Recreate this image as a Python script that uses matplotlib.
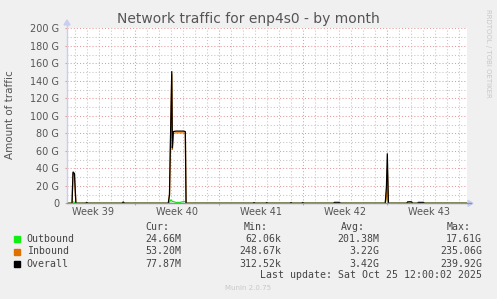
import matplotlib
matplotlib.use("Agg")
import matplotlib.pyplot as plt
import numpy as np

# ---- data (x in days from left edge of window, values in G) ----
t_days = [0.00, 0.42, 0.50, 0.62, 0.74,
          1.54, 1.64, 1.75,
          4.58, 4.69, 4.79,
          8.44, 8.54, 8.65, 8.73, 8.78, 8.86, 9.08, 9.42, 9.70, 9.86, 9.92,
          15.50, 15.58, 15.66,
          16.56, 16.64, 16.72,
          18.59, 18.67, 18.75,
          19.56, 19.64, 19.72,
          22.20, 22.28, 22.70, 22.78,
          26.52, 26.62, 26.69, 26.78,
          28.30, 28.38, 28.58, 28.72, 28.80,
          29.20, 29.28, 29.70, 29.78,
          33.33]
outbound = [0, 0, 1.5, 1.2, 0,
            0, 0.5, 0,
            0, 0.1, 0,
            0, 1.0, 4.0, 3.0, 2.0, 2.0, 1.0, 1.0, 2.0, 2.0, 0,
            0, 0.7, 0,
            0, 0.2, 0,
            0, 0.8, 0,
            0, 0.2, 0,
            0, 0.1, 0.1, 0,
            0, 12.0, 17.6, 0,
            0, 1.4, 1.6, 1.4, 0,
            0, 0.1, 0.1, 0,
            0]
inbound = [0, 0, 34.5, 32.5, 0,
           0, 0.5, 0,
           0, 1.4, 0,
           0, 9.0, 90.0, 148.0, 61.0, 80.0, 80.5, 80.5, 80.5, 80.0, 0,
           0, 0.2, 0,
           0, 0.6, 0,
           0, 0.1, 0,
           0, 0.8, 0,
           0, 0.9, 0.9, 0,
           0, 8.0, 39.5, 0,
           0, 0.1, 0.1, 0.1, 0,
           0, 0.9, 0.9, 0,
           0]
overall = [0, 0, 36.0, 34.0, 0,
           0, 1.0, 0,
           0, 1.5, 0,
           0, 10.0, 94.0, 151.0, 63.0, 82.0, 82.5, 82.5, 82.5, 82.0, 0,
           0, 0.9, 0,
           0, 0.8, 0,
           0, 0.9, 0,
           0, 1.0, 0,
           0, 1.0, 1.0, 0,
           0, 20.0, 57.0, 0,
           0, 1.5, 1.7, 1.5, 0,
           0, 1.0, 1.0, 0,
           0]

week_labels = ["Week 39", "Week 40", "Week 41", "Week 42", "Week 43"]
week_starts = [5.69, 12.69, 19.69, 26.69]
y_ticks = [0, 20, 40, 60, 80, 100, 120, 140, 160, 180, 200]
y_tick_labels = ["0", "20 G", "40 G", "60 G", "80 G", "100 G", "120 G",
                 "140 G", "160 G", "180 G", "200 G"]

series_names = ["Outbound", "Inbound", "Overall"]
series_colors = ["#11ee11", "#e87400", "#000000"]
cur_vals = ["24.66M", "53.20M", "77.87M"]
min_vals = ["62.06k", "248.67k", "312.52k"]
avg_vals = ["201.38M", "3.22G", "3.42G"]
max_vals = ["17.61G", "235.06G", "239.92G"]

# ---- figure ----
W, H = 497, 299
fig = plt.figure(figsize=(W / 100, H / 100), dpi=100, facecolor="#f0f0f0")

def fx(px):
    return px / W

def fy(py):
    return 1 - py / H

x0, x1, ytop, ybot = 67, 467, 28.3, 203.3
ax = fig.add_axes([fx(x0), fy(ybot), fx(x1 - x0), (ybot - ytop) / H])
ax.set_facecolor("white")
ax.set_xlim(0, 33.33)
ax.set_ylim(0, 200)
for s in ax.spines.values():
    s.set_visible(False)

red = "#e49a9a"
grey = "#c4c4c4"
dot = (0, (1, 2))
# minor grid
for d in np.arange(0.69, 33.33, 1.0):
    if not any(abs(d - w) < 0.05 for w in week_starts):
        ax.axvline(d, color=grey, lw=0.75, ls=dot, zorder=1)
for v in range(10, 200, 20):
    ax.axhline(v, color=grey, lw=0.75, ls=dot, zorder=1)
# major grid
for w in week_starts:
    ax.axvline(w, color=red, lw=0.75, ls=dot, zorder=1)
for v in y_ticks[1:]:
    ax.axhline(v, color=red, lw=0.75, ls=dot, zorder=1)

ax.set_yticks(y_ticks)
ax.set_yticklabels(y_tick_labels)
ax.tick_params(axis="y", length=1.5, color=red, pad=4.2, labelsize=7,
               labelcolor="#555555")
ax.set_xticks(week_starts)
ax.set_xticklabels([])
ax.tick_params(axis="x", length=1.5, color=red)

for i, lab in enumerate(week_labels):
    c = 2.19 + 7 * i
    ax.text(c, -9.5, lab, ha="center", va="center", fontsize=7,
            color="#555555", clip_on=False)

# data
for vals, col in zip([outbound, inbound, overall], series_colors):
    ax.plot(t_days, vals, color=col, lw=0.9, zorder=3, solid_joinstyle="miter")

# axes lines with arrows
axis_col = "#c8cef0"
fig.add_artist(plt.Line2D([fx(x0), fx(x0)], [fy(ybot), fy(22)], color=axis_col, lw=1))
fig.add_artist(plt.Line2D([fx(x0), fx(471)], [fy(ybot), fy(ybot)], color="#9090a8", lw=1, zorder=5))
fig.add_artist(plt.Polygon([[fx(64), fy(25)], [fx(70), fy(25)], [fx(67), fy(20)]],
                           closed=True, color=axis_col))
fig.add_artist(plt.Polygon([[fx(468), fy(200.3)], [fx(468), fy(206.3)], [fx(473), fy(203.3)]],
                           closed=True, color=axis_col))

# title & labels
fig.text(fx(248), fy(19), "Network traffic for enp4s0 - by month", ha="center",
         va="center", fontsize=10, color="#555555")
fig.text(fx(10), fy(114.5), "Amount of traffic", rotation=90, ha="center",
         va="center", fontsize=7.5, color="#555555")
fig.text(fx(488), fy(53), "RRDTOOL / TOBI OETIKER", rotation=270, ha="center",
         va="center", fontsize=5, color="#c8c8c8")

# legend
mono = "DejaVu Sans Mono"
fs = 7.1
tc = "#444444"
fig.text(fx(145), fy(227.3), "Cur:", ha="left", va="center", family=mono, fontsize=fs, color=tc)
fig.text(fx(244), fy(227.3), "Min:", ha="left", va="center", family=mono, fontsize=fs, color=tc)
fig.text(fx(340.7), fy(227.3), "Avg:", ha="left", va="center", family=mono, fontsize=fs, color=tc)
fig.text(fx(447), fy(227.3), "Max:", ha="left", va="center", family=mono, fontsize=fs, color=tc)
rows = [239.3, 251.5, 263.7]
for i, name in enumerate(series_names):
    y = rows[i]
    fig.add_artist(plt.Rectangle((fx(14), fy(y + 3)), fx(6), 6 / H,
                                 color=series_colors[i] if i != 1 else "#e07000"))
    fig.text(fx(26.7), fy(y), name, ha="left", va="center", family=mono, fontsize=fs, color=tc)
    fig.text(fx(181), fy(y), cur_vals[i], ha="right", va="center", family=mono, fontsize=fs, color=tc)
    fig.text(fx(281), fy(y), min_vals[i], ha="right", va="center", family=mono, fontsize=fs, color=tc)
    fig.text(fx(379), fy(y), avg_vals[i], ha="right", va="center", family=mono, fontsize=fs, color=tc)
    fig.text(fx(482), fy(y), max_vals[i], ha="right", va="center", family=mono, fontsize=fs, color=tc)
fig.text(fx(482), fy(275.3), "Last update: Sat Oct 25 12:00:02 2025", ha="right",
         va="center", family=mono, fontsize=fs, color=tc)
fig.text(fx(248), fy(288), "Munin 2.0.75", ha="center", va="center",
         fontsize=5, color="#c8c8c8")

fig.savefig("out.png", dpi=100, facecolor=fig.get_facecolor())
